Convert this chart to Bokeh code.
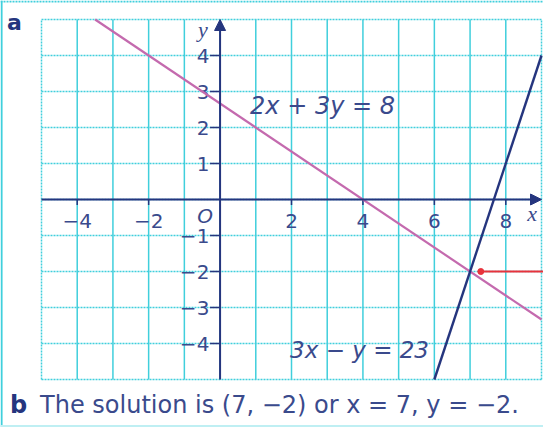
from bokeh.plotting import figure
from bokeh.models import Range1d, Arrow, NormalHead
from bokeh.core.properties import value
from bokeh.embed import file_html
from bokeh.resources import INLINE

# ---- data ----
x_grid = [-5, -4, -3, -2, -1, 0, 1, 2, 3, 4, 5, 6, 7, 8, 9]
y_grid = [-5, -4, -3, -2, -1, 0, 1, 2, 3, 4, 5]
x_ticks = [-4, -2, 2, 4, 6, 8]
x_tick_labels = ["\u22124", "\u22122", "2", "4", "6", "8"]
y_ticks = [4, 3, 2, 1, -1, -2, -3, -4]
y_tick_labels = ["4", "3", "2", "1", "\u22121", "\u22122", "\u22123", "\u22124"]
# line 1: 2x + 3y = 8
line1_x = [-3.5, 9]
line1_y = [(8 - 2 * v) / 3 for v in line1_x]
# line 2: 3x - y = 23
line2_x = [6, 9]
line2_y = [3 * v - 23 for v in line2_x]
solution = (7, -2)
pointer_x = 7.3

XMIN, XMAX, YMIN, YMAX = -5, 9, -5, 5

# colours
CYAN = "#40cfdc"
NAVY = "#25357e"
PINK = "#c46aae"
TEXT = "#3a4a8c"
RED = "#e8333c"
FONT = value("DejaVu Sans")

W, H = 543, 427
sx = 500 / 14.0
sy = 36.0
x0 = XMIN - 41 / sx
x1 = x0 + W / sx
y1 = YMAX + 19 / sy
y0 = y1 - H / sy

p = figure(width=W, height=H, output_backend="svg", toolbar_location=None,
           x_range=Range1d(x0, x1), y_range=Range1d(y0, y1),
           min_border=0, min_border_left=0, min_border_right=0,
           min_border_top=0, min_border_bottom=0)
p.axis.visible = False
p.grid.visible = False
p.outline_line_color = None
p.background_fill_color = "white"
p.border_fill_color = "white"

# outer panel border
p.line([x0 + 0.03, x0 + 0.03], [y0, y1], line_color=CYAN, line_width=2)
p.line([x0, x1], [y1 - 0.03, y1 - 0.03], line_color=CYAN, line_width=2, line_dash="2 1")
p.line([x0, x1], [y0 + 0.03, y0 + 0.03], line_color="#bfeff3", line_width=3)

# grid
inner_x = [v for v in x_grid if v not in (XMIN, XMAX)]
p.segment(x0=inner_x, y0=[YMIN] * len(inner_x), x1=inner_x, y1=[YMAX] * len(inner_x),
          line_color=CYAN, line_width=1.5)
p.segment(x0=[XMIN, XMAX], y0=[YMIN, YMIN], x1=[XMIN, XMAX], y1=[YMAX, YMAX],
          line_color=CYAN, line_width=1.5, line_dash="2 1")
p.segment(x0=[XMIN] * len(y_grid), y0=y_grid, x1=[XMAX] * len(y_grid), y1=y_grid,
          line_color=CYAN, line_width=1.5, line_dash="2 1")

# axes with arrows
p.add_layout(Arrow(end=NormalHead(size=11, fill_color=NAVY, line_color=NAVY),
                   x_start=XMIN, y_start=0, x_end=XMAX, y_end=0,
                   line_color=NAVY, line_width=2))
p.add_layout(Arrow(end=NormalHead(size=11, fill_color=NAVY, line_color=NAVY),
                   x_start=0, y_start=YMIN, x_end=0, y_end=YMAX,
                   line_color=NAVY, line_width=2))

# ticks
p.segment(x0=x_ticks, y0=[0] * len(x_ticks), x1=x_ticks, y1=[-0.15] * len(x_ticks),
          line_color=NAVY, line_width=1.5)
p.segment(x0=[-0.28] * len(y_ticks), y0=y_ticks, x1=[0] * len(y_ticks), y1=y_ticks,
          line_color=NAVY, line_width=1.5)

# tick labels
p.text(x=x_ticks, y=[-0.6] * len(x_ticks), text=x_tick_labels,
       text_align="center", text_baseline="middle", text_color=TEXT,
       text_font=FONT, text_font_size="20px")
p.text(x=[-0.3] * len(y_ticks), y=y_ticks, text=y_tick_labels,
       text_align="right", text_baseline="middle", text_color=TEXT,
       text_font=FONT, text_font_size="20px")
p.text(x=[-0.42], y=[-0.45], text=["O"], text_align="center", text_baseline="middle",
       text_color=TEXT, text_font=FONT, text_font_style="italic",
       text_font_size="20px")
p.text(x=[8.74], y=[-0.4], text=["x"], text_align="center", text_baseline="middle",
       text_color=TEXT, text_font=value("Liberation Serif"), text_font_style="italic",
       text_font_size="22px")
p.text(x=[-0.48], y=[4.72], text=["y"], text_align="center", text_baseline="middle",
       text_color=TEXT, text_font=value("Liberation Serif"), text_font_style="italic",
       text_font_size="22px")

# the two lines
p.line(line1_x, line1_y, line_color=PINK, line_width=2.2)
p.line(line2_x, line2_y, line_color=NAVY, line_width=2.4)

# pointer
p.line([pointer_x, x1], [solution[1], solution[1]], line_color=RED, line_width=2)
p.scatter([pointer_x], [solution[1]], size=6, color=RED)

# equation labels
p.text(x=[0.84], y=[2.61], text=["2x + 3y = 8"], text_align="left", text_baseline="middle",
       text_color=TEXT, text_font=FONT, text_font_style="italic",
       text_font_size="24px")
p.text(x=[1.96], y=[-4.17], text=["3x \u2212 y = 23"], text_align="left", text_baseline="middle",
       text_color=TEXT, text_font=FONT, text_font_style="italic",
       text_font_size="23px")

# part labels
p.text(x=[x0 + (22 - 8) / sx], y=[4.92], text=["a"], text_align="center", text_baseline="middle",
       text_color=NAVY, text_font=FONT, text_font_style="bold", text_font_size="22px")
p.text(x=[-5.88], y=[-5.72], text=["b"], text_align="left", text_baseline="middle",
       text_color=NAVY, text_font=FONT, text_font_style="bold", text_font_size="24px")
p.text(x=[-5.04], y=[-5.72], text=["The solution is (7, \u22122) or x = 7, y = \u22122."],
       text_align="left", text_baseline="middle",
       text_color=TEXT, text_font=FONT, text_font_size="24px")

open("out.html", "w").write(file_html(p, INLINE))
